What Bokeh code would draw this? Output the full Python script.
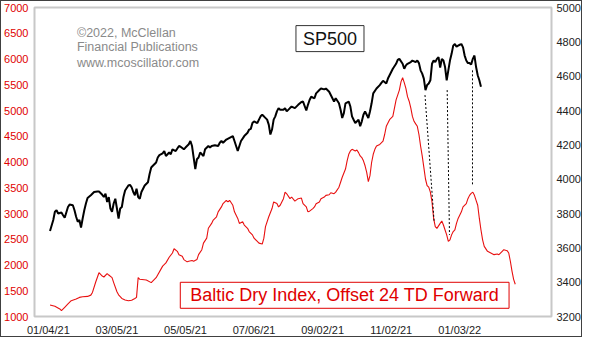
from bokeh.plotting import figure
from bokeh.models import Range1d, LinearAxis, FixedTicker, Label, ColumnDataSource
from bokeh.embed import file_html
from bokeh.resources import INLINE

# ---------------- data (x = trading-day index from 01/04/21) ----------------
sp_day = [1, 3, 4, 5, 6, 8, 9, 10, 12, 13, 15, 16, 17, 18, 19, 20, 21, 22, 23, 24,
          26, 28, 30, 31, 33, 34, 35, 36, 37, 38, 39, 40, 41, 42, 43, 44, 45, 46, 47, 49,
          50, 51, 52, 53, 54, 55, 56, 57, 59, 61, 62, 63, 64, 66, 67, 68,
          70, 71, 72, 74, 75, 76, 78, 80, 81, 83, 84, 86, 87, 88, 89, 90, 91, 92, 93, 94,
          95, 96, 98, 99, 100, 102, 104, 105, 106, 107, 109, 111, 113, 114, 115, 116, 117, 118, 120, 122,
          123, 124, 125, 126, 128, 129, 130, 131, 132, 134, 135, 136, 137, 138, 139, 140, 141, 142, 144, 145,
          146, 148, 149, 151, 153, 155,
          156, 158, 159, 160, 161, 163, 164, 166, 167, 169, 170, 172, 173, 174, 175, 176, 178, 179, 180, 181,
          182, 184, 185, 186, 187, 188, 190, 191, 192, 193, 194, 195, 196, 197, 198, 199, 201, 203, 204, 205,
          207, 208, 209, 210, 211, 213, 214, 215, 217, 218, 219, 220, 222, 223, 225, 226, 227,
          228, 229, 230, 231, 232, 233, 234, 235, 236, 237, 238, 239, 240, 241, 242, 243, 244, 245, 246, 247,
          248, 249, 250, 251, 252, 253, 254, 255, 256, 257, 258, 259, 260, 261, 262, 263, 264, 265]
sp_close = [3698, 3762, 3810, 3819, 3800, 3806, 3790, 3775, 3838, 3852, 3848, 3819, 3781, 3752, 3762, 3718, 3771, 3819, 3858, 3890,
            3906, 3925, 3928, 3928, 3909, 3896, 3915, 3867, 3896, 3829, 3810, 3858, 3886, 3829, 3771, 3829, 3838, 3896, 3934, 3963,
            3967, 3953, 3925, 3906, 3944, 3896, 3886, 3925, 3963, 3982, 4030, 4068, 4078, 4097, 4126, 4140,
            4150, 4164, 4135, 4155, 4145, 4174, 4164, 4193, 4189, 4174, 4184, 4203, 4222, 4193, 4126, 4059, 4116, 4126, 4155, 4145,
            4135, 4174, 4193, 4184, 4193, 4197, 4193, 4212, 4222, 4212, 4231, 4241, 4251, 4222, 4193, 4164, 4193, 4222, 4251, 4270,
            4289, 4293, 4327, 4337, 4327, 4347, 4366, 4375, 4366, 4347, 4318, 4260, 4289, 4347, 4366, 4395, 4414, 4404, 4404, 4414,
            4395, 4414, 4423, 4414, 4433, 4450,
            4452, 4400, 4433, 4461, 4480, 4471, 4500, 4519, 4528, 4523, 4528, 4509, 4490, 4471, 4452, 4471, 4442, 4404, 4356, 4385,
            4442, 4452, 4423, 4366, 4346, 4327, 4346, 4308, 4337, 4375, 4394, 4375, 4356, 4394, 4442, 4500, 4528, 4548, 4561, 4573,
            4557, 4586, 4605, 4624, 4643, 4672, 4695, 4701, 4672, 4643, 4663, 4672, 4682, 4691, 4682, 4691, 4676,
            4634, 4615, 4586, 4519, 4548, 4557, 4576, 4672, 4691, 4682, 4701, 4711, 4650, 4701, 4691, 4653, 4576, 4634, 4691, 4730,
            4778, 4787, 4772, 4778, 4783, 4787, 4768, 4720, 4691, 4676, 4676, 4668, 4701, 4720, 4653, 4605, 4576, 4538]

bdi_day = [1, 4, 7, 8, 10, 12, 14, 17, 19, 21, 24, 26, 27, 29, 31, 33, 34, 36, 37, 39,
           40, 42, 43, 45, 47, 49, 51, 53, 54, 55, 56, 60, 63, 66,
           70, 72, 74, 76, 77, 79, 80, 82, 83, 85, 86, 88, 89, 91, 92, 94, 95, 97, 98, 100,
           101, 103, 104, 106, 107, 109, 110, 111, 113, 114, 116, 117, 119, 120, 122, 123, 125, 126, 128, 129,
           131, 132, 133, 135, 137, 138, 140, 141, 142, 144, 145, 146, 148, 149, 151, 153, 155,
           156, 158, 159, 160, 162, 163, 164, 166, 167, 169, 170, 172, 173, 175, 176, 178, 179, 180, 182, 183,
           184, 185, 186, 188, 189, 190, 191, 192, 193, 194, 195, 196, 197, 198, 199, 200, 201, 203, 205, 206,
           207, 209, 211, 212, 213, 215, 216, 217, 218, 219, 220, 221, 222, 223, 224, 225, 226, 227,
           228, 229, 230, 231, 232, 233, 234, 235, 236, 237, 238, 240, 241, 242, 243, 244, 245, 246, 247, 248,
           249, 250, 251, 253, 254, 256, 257, 258, 259, 260, 261, 262, 263, 264, 265, 266, 267, 269, 271, 273,
           275, 276, 278, 279, 281, 282, 283, 284, 285, 286]
bdi_value = [1224, 1198, 1147, 1115, 1179, 1243, 1307, 1339, 1371, 1383, 1390, 1415, 1467, 1670, 1850, 1786, 1767, 1834, 1805, 1754,
             1658, 1480, 1422, 1350, 1322, 1307, 1315, 1350, 1371, 1754, 1722, 1709, 1658, 1754,
             1978, 2041, 2150, 2233, 2316, 2265, 2201, 2169, 2105, 2061, 2073, 2086, 2073, 2105, 2201, 2297, 2425, 2521, 2713, 2808,
             2872, 2936, 3032, 3128, 3192, 3256, 3224, 3256, 3160, 3032, 2904, 2808, 2840, 2776, 2713, 2649, 2585, 2521, 2457, 2425,
             2406, 2521, 2745, 2936, 3096, 3224, 3192, 3128, 3160, 3288, 3415, 3383, 3288, 3320, 3240, 3288, 3300,
             3191, 3128, 3032, 3045, 3096, 3128, 3191, 3224, 3288, 3320, 3352, 3364, 3403, 3384, 3415, 3511, 3607, 3703, 3863, 4022,
             4150, 4214, 4246, 4214, 4233, 4182, 4118, 4086, 4022, 3927, 3799, 3620, 3735, 3990, 4150, 4246, 4310, 4342, 4406, 4534,
             4693, 4821, 4885, 5045, 5205, 5396, 5556, 5639, 5540, 5428, 5269, 5180, 5050, 4885, 4790, 4740, 4693, 4534,
             4310, 4118, 3895, 3670, 3543, 3511, 3415, 3224, 2904, 2744, 2712, 2808, 2853, 2776, 2680, 2585, 2457, 2489, 2585, 2649,
             2680, 2808, 2904, 3032, 3128, 3191, 3288, 3352, 3390, 3415, 3352, 3256, 3160, 2904, 2680, 2489, 2361, 2265, 2233, 2201,
             2214, 2201, 2265, 2297, 2278, 2233, 2073, 1882, 1722, 1626]

# dotted links: SP500 low/high -> matching BDI turn (24 TD offset)
link_sp_day = [230.7, 244.3, 259.8]
link_sp_val = [4490, 4519, 4634]
link_bdi_day = [236.3, 245.7, 259.8]
link_bdi_val = [2840, 2585, 3544]

x_tick_days = [0, 42, 84, 126, 168, 210, 252]
x_tick_labels = ["01/04/21", "03/05/21", "05/05/21", "07/06/21", "09/02/21", "11/02/21", "01/03/22"]
bdi_ticks = [1000, 1500, 2000, 2500, 3000, 3500, 4000, 4500, 5000, 5500, 6000, 6500, 7000]
sp_ticks = [3200, 3400, 3600, 3800, 4000, 4200, 4400, 4600, 4800, 5000]

assert len(sp_day) == len(sp_close)
assert len(bdi_day) == len(bdi_value)

FONT = "Liberation Sans"
RED = "#e00000"

L0, L1 = 1000, 7000
R0, R1 = 3200, 5000

p = figure(width=582, height=337, output_backend="svg", toolbar_location=None,
           x_range=Range1d(-8.5, 308.2), y_range=Range1d(L0, L1),
           min_border_left=31, min_border_right=0, min_border_top=6, min_border_bottom=20,
           background_fill_color="white", border_fill_color="white")
p.styles = {"border": "1px solid #404040"}
p.extra_y_ranges = {"sp": Range1d(R0, R1)}
p.xgrid.visible = False
p.ygrid.visible = False
p.outline_line_color = "#c8c8c8"
p.outline_line_width = 2

# left axis (BDI)
ya = p.yaxis[0]
ya.ticker = FixedTicker(ticks=bdi_ticks)
ya.major_label_text_color = RED

# right axis (SP500)
ra = LinearAxis(y_range_name="sp", ticker=FixedTicker(ticks=sp_ticks),
                axis_label=None, axis_label_standoff=0)
p.add_layout(ra, "right")
ra.major_label_text_color = "#222222"

xa = p.xaxis[0]
xa.ticker = FixedTicker(ticks=x_tick_days)
xa.major_label_overrides = {d: s for d, s in zip(x_tick_days, x_tick_labels)}
xa.major_label_text_color = "#222222"

for ax in (xa, ya, ra):
    ax.axis_line_color = None
    ax.major_tick_line_color = None
    ax.minor_tick_line_color = None
    ax.major_tick_out = 0
    ax.major_tick_in = 0
    ax.minor_tick_out = 0
    ax.minor_tick_in = 0
    ax.major_label_text_font = FONT
    ax.major_label_text_font_size = "11px"
xa.major_label_standoff = 7
ya.major_label_standoff = 6
ra.major_label_standoff = 5

# lines
p.line(bdi_day, bdi_value, line_color="#e81010", line_width=1.1)
p.line(sp_day, sp_close, line_color="black", line_width=2, y_range_name="sp")

# dotted links (SP values mapped onto left scale)
k = (L1 - L0) / (R1 - R0)
src = ColumnDataSource(dict(
    x0=link_sp_day, y0=[L0 + (v - R0) * k for v in link_sp_val],
    x1=link_bdi_day, y1=link_bdi_val))
p.segment(x0="x0", y0="y0", x1="x1", y1="y1", source=src,
          line_color="black", line_width=1, line_dash="2 2")

# watermark
for txt, yy in zip(["\u00a92022, McClellan", "Financial Publications", "www.mcoscillator.com"],
                   [6502, 6234, 5927]):
    p.add_layout(Label(x=17.5, y=yy, text=txt, text_font=FONT, text_font_size="12.5px",
                       text_color="#8a8a8a", text_baseline="middle", text_align="left"))

p.add_layout(Label(x=172.5, y=6396, text="SP500", text_font=FONT, text_font_size="18px",
                   text_color="#111111", text_align="center", text_baseline="middle",
                   border_line_color="#333333", border_line_width=1,
                   background_fill_color="white",
                   padding=dict(left=7, right=7, top=3, bottom=3)))

p.add_layout(Label(x=181.5, y=1412, text="Baltic Dry Index, Offset 24 TD Forward",
                   text_font=FONT, text_font_size="18px",
                   text_color=RED, text_align="center", text_baseline="middle",
                   border_line_color=RED, border_line_width=1,
                   background_fill_color="white",
                   padding=dict(left=10, right=10, top=3, bottom=3)))

open("out.html", "w").write(file_html(p, INLINE))
